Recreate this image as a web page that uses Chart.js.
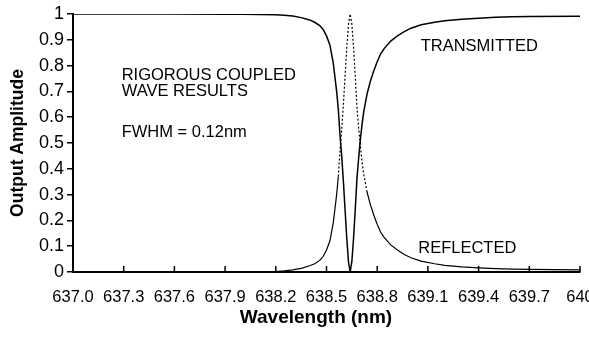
<!DOCTYPE html>
<html>
<head>
<meta charset="utf-8">
<script src="https://cdn.jsdelivr.net/npm/chart.js@4.4.1/dist/chart.umd.min.js"></script>
<style>
  html, body { margin: 0; padding: 0; background: #fff; }
  #wrap { width: 589px; height: 339px; }
</style>
</head>
<body>
<div id="wrap"><canvas id="chart"></canvas></div>
<script>
// Values
const wavelengths = [
  637.0, 637.3, 637.6, 637.9, 638.0, 638.1, 638.2, 638.25, 638.3, 638.35,
  638.4, 638.43, 638.46, 638.48, 638.5, 638.52, 638.54, 638.56, 638.57, 638.58,
  638.59, 638.6, 638.61, 638.62, 638.63, 638.64, 638.65, 638.66, 638.67, 638.68,
  638.69, 638.7, 638.71, 638.72, 638.74, 638.76, 638.78, 638.8, 638.82, 638.84,
  638.88, 638.92, 638.96, 639.0, 639.06, 639.14, 639.2, 639.3, 639.4, 639.5,
  639.6, 639.7, 640.0
];
const transmitted = [
  1, 1, 1, 0.999, 0.999, 0.998, 0.997, 0.995, 0.992, 0.986,
  0.977, 0.968, 0.955, 0.94, 0.915, 0.88, 0.81, 0.7, 0.63, 0.53,
  0.45, 0.35, 0.24, 0.13, 0.04, 0, 0.04, 0.13, 0.24, 0.36,
  0.44, 0.51, 0.57, 0.62, 0.69, 0.74, 0.78, 0.815, 0.845, 0.865,
  0.895, 0.915, 0.932, 0.945, 0.958, 0.968, 0.974, 0.98, 0.984, 0.987,
  0.989, 0.99, 0.991
];
const reflected = [
  0, 0, 0, 0, 0.001, 0.001, 0.002, 0.004, 0.008, 0.014,
  0.024, 0.032, 0.045, 0.06, 0.085, 0.12, 0.19, 0.3, 0.37, 0.47,
  0.55, 0.65, 0.76, 0.87, 0.96, 1, 0.96, 0.87, 0.76, 0.64,
  0.56, 0.49, 0.43, 0.38, 0.31, 0.26, 0.22, 0.185, 0.155, 0.135,
  0.105, 0.085, 0.068, 0.055, 0.042, 0.032, 0.026, 0.02, 0.016, 0.013,
  0.011, 0.01, 0.008
];
const xTicks = [637.0, 637.3, 637.6, 637.9, 638.2, 638.5, 638.8, 639.1, 639.4, 639.7, 640.0];
const xTickLabels = ["637.0", "637.3", "637.6", "637.9", "638.2", "638.5", "638.8", "639.1", "639.4", "639.7", "640"];
const yTicks = [0, 0.1, 0.2, 0.3, 0.4, 0.5, 0.6, 0.7, 0.8, 0.9, 1];

const FONT = "'Liberation Sans', Arial, sans-serif";

const toPoints = (ys) => wavelengths.map((x, i) => ({ x, y: ys[i] }));

// inward tick marks on the wavelength axis, axis title and text notes
const extras = {
  id: "extras",
  afterDraw(chart) {
    const { ctx, scales: { x, y } } = chart;
    ctx.save();
    ctx.strokeStyle = "#000";
    ctx.lineWidth = 1.5;
    const base = y.getPixelForValue(0);
    xTicks.slice(1).forEach((v) => {
      const px = x.getPixelForValue(v);
      ctx.beginPath();
      ctx.moveTo(px, base);
      ctx.lineTo(px, base - 6);
      ctx.stroke();
    });

    ctx.fillStyle = "#000";
    ctx.textBaseline = "alphabetic";

    // x axis title (sits a bit left of the plot centre, like the original)
    ctx.font = "bold 19px " + FONT;
    ctx.textAlign = "center";
    ctx.fillText("Wavelength (nm)", 316, 323);

    ctx.font = "16.5px " + FONT;
    ctx.textAlign = "left";
    const notes = [
      ["RIGOROUS COUPLED", 637.288, 0.744],
      ["WAVE RESULTS", 637.288, 0.683],
      ["FWHM = 0.12nm", 637.288, 0.522],
      ["TRANSMITTED", 639.057, 0.858],
      ["REFLECTED", 639.043, 0.072],
    ];
    notes.forEach(([t, vx, vy]) => {
      ctx.fillText(t, x.getPixelForValue(vx), y.getPixelForValue(vy));
    });
    ctx.restore();
  },
};

new Chart(document.getElementById("chart"), {
  type: "line",
  data: {
    datasets: [
      {
        label: "Transmitted",
        data: toPoints(transmitted),
        borderColor: "#000",
        borderWidth: 1.5,
        pointRadius: 0,
        tension: 0,
      },
      {
        label: "Reflected",
        data: toPoints(reflected),
        borderColor: "#000",
        borderWidth: 1.2,
        pointRadius: 0,
        tension: 0,
        segment: {
          borderDash: (c) => (c.p0.parsed.y > 0.3 && c.p1.parsed.y > 0.3 ? [2, 2] : undefined),
        },
      },
    ],
  },
  options: {
    responsive: true,
    maintainAspectRatio: false,
    animation: false,
    layout: { padding: { top: 14, right: 9, left: 0, bottom: 0 } },
    plugins: { legend: { display: false }, tooltip: { enabled: false } },
    scales: {
      x: {
        type: "linear",
        min: 637,
        max: 640,
        afterBuildTicks: (s) => { s.ticks = xTicks.map((v) => ({ value: v })); },
        afterFit: (s) => { s.height = 67; s.paddingLeft = 0; s.paddingRight = 0; },
        grid: { display: true, drawOnChartArea: false, drawTicks: false, color: "#000", lineWidth: 1.5 },
        border: { display: true, color: "#000", width: 2 },
        ticks: {
          color: "#000",
          font: { family: FONT, size: 16.5 },
          padding: 16,
          maxRotation: 0,
          autoSkip: false,
          callback: (v, i) => xTickLabels[i],
        },
      },
      y: {
        min: 0,
        max: 1,
        afterBuildTicks: (s) => { s.ticks = yTicks.map((v) => ({ value: v })); },
        afterFit: (s) => { s.width = 73; s.paddingTop = 0; s.paddingBottom = 0; },
        grid: { display: true, drawOnChartArea: false, drawTicks: true, tickLength: 6, color: "#000", lineWidth: 1.5 },
        border: { display: true, color: "#000", width: 2 },
        ticks: {
          color: "#000",
          font: { family: FONT, size: 18 },
          padding: 3,
          autoSkip: false,
          callback: (v) => String(Number(v.toFixed(1))),
        },
        title: {
          display: true,
          text: "Output Amplitude",
          color: "#000",
          font: { family: FONT, size: 17.5, weight: "bold" },
          padding: { top: 8, bottom: 0 },
        },
      },
    },
  },
  plugins: [extras],
});
</script>
</body>
</html>
